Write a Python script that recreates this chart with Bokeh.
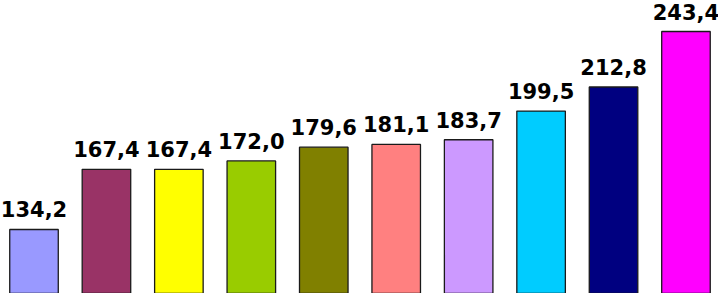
from bokeh.plotting import figure
from bokeh.models import ColumnDataSource, Range1d
from bokeh.core.properties import value
from bokeh.embed import file_html
from bokeh.resources import INLINE

categories = ["1", "2", "3", "4", "5", "6", "7", "8", "9", "10"]
values = [134.2, 167.4, 167.4, 172.0, 179.6, 181.1, 183.7, 199.5, 212.8, 243.4]
colors = ["#9999FF", "#993366", "#FFFF00", "#99CC00", "#808000",
          "#FF8080", "#CC99FF", "#00CCFF", "#000080", "#FF00FF"]
labels = [f"{v:.1f}".replace(".", ",") for v in values]

x = list(range(1, len(categories) + 1))
source = ColumnDataSource(dict(x=x, top=values, color=colors, label=labels, cat=categories))

p = figure(width=718, height=293, output_backend="svg", toolbar_location=None,
           x_range=Range1d(0.5375, 10.449), y_range=Range1d(98.9, 260.5),
           min_border=0)
p.axis.visible = False
p.grid.visible = False
p.outline_line_color = None
p.background_fill_color = "white"

p.vbar(x="x", top="top", bottom=90, width=0.67, fill_color="color",
       line_color="#1a1a1a", line_width=1.3, source=source)
p.text(x="x", y="top", text="label", source=source, text_align="center",
       text_baseline="alphabetic", y_offset=-20, text_font=value("DejaVu Sans"),
       text_font_style="bold", text_font_size="21px", text_color="#000000")

open("out.html", "w").write(file_html(p, INLINE))
